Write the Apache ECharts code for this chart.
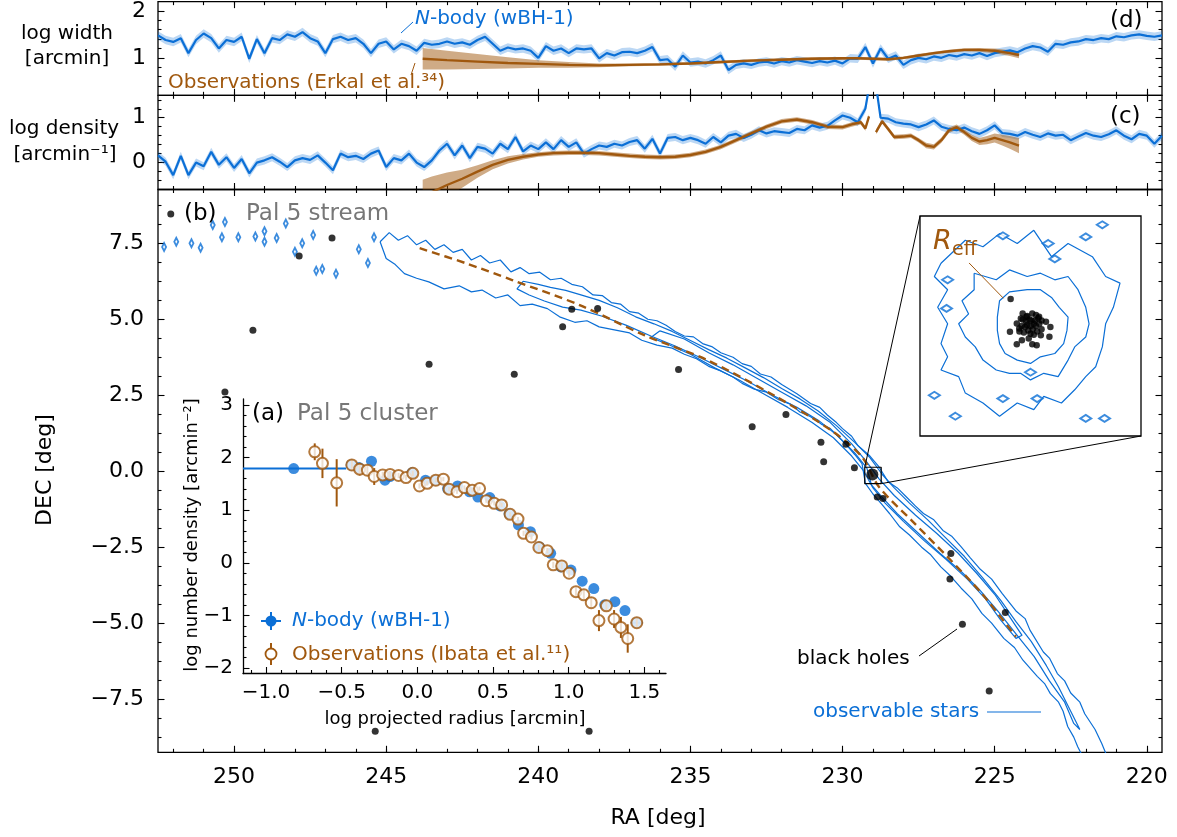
<!DOCTYPE html>
<html><head><meta charset="utf-8">
<script src="https://cdn.jsdelivr.net/npm/echarts@6/dist/echarts.min.js"></script>
<style>html,body{margin:0;padding:0;background:#fff}#c{width:1177px;height:837px}</style>
</head><body><div id="c"></div>
<script>
// ---------------- DATA ----------------
const raTicks = [220,225,230,235,240,245,250];
const raMinor = [220,221,222,223,224,225,226,227,228,229,230,231,232,233,234,235,236,237,238,239,240,241,242,243,244,245,246,247,248,249,250,251,252];
const decTicks = [-7.5,-5,-2.5,0,2.5,5,7.5];
const decMinor = [-8.75,-8.125,-6.875,-6.25,-5.625,-4.375,-3.75,-3.125,-1.875,-1.25,-0.625,0.625,1.25,1.875,3.125,3.75,4.375,5.625,6.25,6.875,8.125,8.75];
const widthTicks = [1,2];
const widthMinor = [0.4,0.6,0.8,1.2,1.4,1.6,1.8];
const densTicks = [0,1];
const densMinor = [-0.4,-0.2,0.2,0.4,0.6,0.8,1.2,1.4];
const profXTicks = [-1,-0.5,0,0.5,1,1.5];
const profXMinor = [-1.1,-0.9,-0.8,-0.7,-0.6,-0.4,-0.3,-0.2,-0.1,0.1,0.2,0.3,0.4,0.6,0.7,0.8,0.9,1.1,1.2,1.3,1.4,1.6];
const profYTicks = [-2,-1,0,1,2,3];
const profYMinor = [-1.8,-1.6,-1.4,-1.2,-0.8,-0.6,-0.4,-0.2,0.2,0.4,0.6,0.8,1.2,1.4,1.6,1.8,2.2,2.4,2.6,2.8];

// N-body stream profiles (RA grid of the model curve)
const nbRA = [252.5,252.25,252,251.75,251.5,251.25,251,250.75,250.5,250.25,250,249.75,249.5,249.25,249,248.75,248.5,248.25,248,247.75,247.5,247.25,247,246.75,246.5,246.25,246,245.75,245.5,245.25,245,244.75,244.5,244.25,244,243.75,243.5,243.25,243,242.75,242.5,242.25,242,241.75,241.5,241.25,241,240.75,240.5,240.25,240,239.75,239.5,239.25,239,238.75,238.5,238.25,238,237.75,237.5,237.25,237,236.75,236.5,236.25,236,235.75,235.5,235.25,235,234.75,234.5,234.25,234,233.75,233.5,233.25,233,232.75,232.5,232.25,232,231.75,231.5,231.25,231,230.75,230.5,230.25,230,229.75,229.5,229.25,229,228.75,228.5,228.25,228,227.75,227.5,227.25,227,226.75,226.5,226.25,226,225.75,225.5,225.25,225,224.75,224.5,224.25,224,223.75,223.5,223.25,223,222.75,222.5,222.25,222,221.75,221.5,221.25,221,220.75,220.5,220.25,220,219.75,219.5];
const nbWidth = [1.48,1.38,1.34,1.42,1.1,1.38,1.52,1.42,1.2,1.38,1.34,1.45,0.98,1.4,1.1,1.42,1.38,1.5,1.45,1.55,1.42,1.35,1.1,1.4,1.45,1.38,1.42,1.3,1.1,1.3,1.35,1.18,1.3,1.25,1.15,1.32,1.28,1.3,1.35,1.3,1.33,1.28,1.38,1.45,1.3,1.15,1.22,1.18,1.2,1.15,1.0,1.25,1.15,1.2,1.1,1.2,1.18,1.2,0.99,1.1,1.05,1.12,1.13,1.1,1.15,1.23,0.95,0.97,0.81,1.05,0.9,0.92,0.88,0.95,1.05,0.74,0.85,0.88,0.85,0.9,0.92,0.88,0.93,0.9,0.95,0.92,0.89,0.93,0.9,0.94,0.88,0.99,0.98,1.23,0.88,1.2,0.98,1.05,0.85,0.95,1.0,0.97,1.03,1.0,1.06,1.03,1.08,1.05,1.1,1.04,1.1,1.13,1.16,1.12,1.2,1.25,1.22,1.13,1.3,1.28,1.33,1.35,1.4,1.38,1.42,1.4,1.46,1.44,1.48,1.5,1.47,1.45,1.48];
const nbDens = [0.16,0.02,-0.28,0.15,-0.28,0.0,-0.08,0.24,-0.05,0.12,-0.12,0.08,-0.24,0.0,0.05,0.12,0.02,-0.1,0.05,0.1,0.06,0.16,0.0,-0.17,0.2,0.12,0.15,0.08,0.2,0.27,-0.1,0.1,0.05,0.2,0.0,-0.1,0.05,0.27,0.42,0.16,0.38,0.1,0.35,0.31,0.2,0.42,0.3,0.57,0.25,0.38,0.3,0.45,0.3,0.5,0.35,0.45,0.2,0.3,0.38,0.35,0.42,0.38,0.46,0.5,0.31,0.53,0.2,0.55,0.57,0.5,0.55,0.5,0.42,0.57,0.45,0.6,0.64,0.55,0.62,0.72,0.65,0.7,0.68,0.66,0.75,0.72,0.83,0.78,0.82,0.94,1.05,1.0,0.9,1.2,2.2,1.0,0.98,0.9,0.87,0.85,0.79,0.85,0.94,0.8,0.75,0.72,0.78,0.7,0.64,0.72,0.83,0.66,0.64,0.6,0.68,0.62,0.57,0.65,0.6,0.62,0.5,0.58,0.66,0.6,0.57,0.63,0.72,0.6,0.52,0.64,0.6,0.42,0.6];
const nbSigma = 0.09;

// Observations (Erkal et al.) width
const dObsRA  = [243.8,243,242,241,240,239,238,237,236,235,234,233,232,231,230,229.5,229,228.5,228,227.5,227,226.5,226,225.5,225,224.5,224.2];
const dObsVal = [0.98,0.95,0.92,0.89,0.87,0.85,0.84,0.85,0.86,0.88,0.91,0.94,0.96,0.98,0.99,0.99,0.98,0.97,1.0,1.05,1.1,1.14,1.17,1.17,1.15,1.1,1.06];
const dObsErr = [0.23,0.2,0.16,0.12,0.08,0.06,0.04,0.03,0.03,0.03,0.03,0.03,0.03,0.03,0.03,0.03,0.03,0.03,0.03,0.03,0.03,0.03,0.035,0.04,0.05,0.06,0.07];
// Observations density (two segments, gap at the cluster)
const cObsRA1  = [243.8,243.5,243,242.5,242,241.5,241,240.5,240,239.5,239,238.5,238,237.5,237,236.5,236,235.5,235,234.5,234,233.5,233,232.5,232,231.5,231,230.5,230,229.7,229.4,229.25,229.13];
const cObsVal1 = [-0.78,-0.66,-0.5,-0.36,-0.2,-0.05,0.06,0.13,0.18,0.21,0.22,0.22,0.21,0.18,0.15,0.13,0.12,0.13,0.17,0.24,0.35,0.5,0.65,0.8,0.92,0.96,0.9,0.8,0.79,0.85,0.9,0.76,1.03];
const cObsErr1 = [0.4,0.35,0.28,0.2,0.14,0.1,0.08,0.06,0.05,0.05,0.05,0.05,0.05,0.05,0.05,0.05,0.05,0.05,0.05,0.05,0.05,0.05,0.05,0.05,0.05,0.05,0.05,0.05,0.05,0.05,0.05,0.05,0.05];
const cObsRA2  = [228.9,228.7,228.5,228.3,228.0,227.75,227.5,227.25,227.0,226.75,226.5,226.25,226.0,225.75,225.5,225.25,225.0,224.75,224.5,224.2];
const cObsVal2 = [0.68,0.92,0.75,0.57,0.58,0.6,0.5,0.38,0.35,0.5,0.72,0.79,0.68,0.55,0.47,0.5,0.55,0.5,0.45,0.38];
const cObsErr2 = [0.05,0.05,0.05,0.05,0.05,0.05,0.05,0.06,0.06,0.06,0.06,0.06,0.06,0.07,0.08,0.09,0.1,0.12,0.14,0.17];

// Stream contours (RA, DEC)
const contourOuter = [[245.2,7.55],[244.9,7.85],[244.6,7.6],[244.3,7.75],[244.0,7.45],[243.7,7.6],[243.4,7.3],[243.1,7.45],[242.8,7.2],[242.5,7.3],[242.2,6.95],[241.9,7.1],[241.6,6.85],[241.25,6.95],[240.9,6.56],[240.6,6.7],[240.3,6.5],[239.95,6.55],[239.6,6.3],[239.25,6.35],[238.9,6.15],[238.55,6.07],[238.2,5.8],[237.9,5.78],[237.6,5.55],[237.3,5.5],[237.0,5.25],[236.7,5.2],[236.4,5.0],[236.1,4.95],[235.8,4.8],[235.5,4.6],[235.2,4.45],[234.9,4.42],[234.6,4.2],[234.3,4.1],[234.0,3.9],[233.6,3.75],[233.3,3.54],[233.0,3.45],[232.7,3.2],[232.35,3.1],[232.0,2.85],[231.5,2.55],[231.05,2.23],[230.75,2.1],[230.5,1.85],[230.2,1.6],[230.0,1.4],[229.7,1.15],[229.5,0.85],[229.1,0.5],[228.8,0.14],[228.5,-0.35],[228.2,-0.55],[227.9,-0.85],[227.6,-1.15],[227.34,-1.39],[227.0,-1.6],[226.7,-1.95],[226.4,-2.15],[226.1,-2.49],[225.8,-2.85],[225.5,-3.2],[225.1,-3.55],[224.75,-4.03],[224.3,-4.6],[224.0,-4.85],[223.84,-5.23],[223.4,-5.95],[223.2,-6.15],[222.94,-6.66],[222.7,-6.9],[222.5,-7.3],[222.2,-7.6],[222.04,-7.98],[221.7,-8.5],[221.48,-8.96],[221.3,-9.4],[222.1,-9.4],[222.27,-9.07],[222.4,-8.75],[222.6,-8.4],[222.75,-7.9],[222.9,-7.6],[223.17,-7.32],[223.35,-7.0],[223.6,-6.75],[224.07,-6.22],[224.35,-5.8],[224.7,-5.5],[225.1,-5.0],[225.42,-4.68],[225.75,-4.2],[226.1,-3.85],[226.45,-3.45],[226.77,-3.15],[227.1,-2.75],[227.4,-2.5],[227.8,-2.1],[228.12,-1.83],[228.45,-1.4],[228.7,-1.1],[229.0,-0.75],[229.25,-0.4],[229.36,0.25],[229.6,0.55],[229.9,0.9],[230.4,1.4],[230.7,1.55],[231.05,1.79],[231.4,1.95],[231.7,2.2],[232.1,2.35],[232.5,2.6],[232.9,2.7],[233.3,2.89],[233.6,3.1],[234.0,3.3],[234.4,3.45],[234.8,3.7],[235.2,3.85],[235.6,4.05],[236.1,4.15],[236.6,4.31],[237.0,4.55],[237.5,4.65],[238.0,4.75],[238.4,4.95],[238.8,4.9],[239.3,5.08],[239.7,5.35],[240.2,5.5],[240.6,5.45],[241.0,5.8],[241.4,5.7],[241.85,5.96],[242.2,5.9],[242.6,6.1],[243.1,6.0],[243.6,6.23],[244.0,6.35],[244.4,6.5],[244.7,6.8],[245.0,7.0],[245.2,7.55]];
const contourMid = [[240.5,6.25],[240.0,6.15],[239.6,6.05],[239.1,5.95],[238.6,5.8],[238.0,5.62],[237.4,5.38],[236.8,5.08],[236.2,4.85],[235.6,4.6],[235.0,4.3],[234.4,4.0],[233.8,3.72],[233.2,3.4],[232.6,3.08],[232.0,2.72],[231.4,2.38],[230.8,1.98],[230.2,1.5],[229.6,0.95],[229.1,0.45],[228.7,-0.1],[228.3,-0.55],[227.8,-1.05],[227.2,-1.6],[226.6,-2.2],[226.0,-2.8],[225.4,-3.5],[224.8,-4.25],[224.3,-4.95],[223.8,-5.6],[223.3,-6.4],[222.9,-7.1],[222.5,-7.9],[222.2,-8.5],[222.4,-8.3],[222.7,-7.6],[223.2,-6.9],[223.7,-6.1],[224.3,-5.35],[224.9,-4.6],[225.5,-3.9],[226.1,-3.3],[226.8,-2.7],[227.5,-2.05],[228.2,-1.4],[228.7,-0.85],[229.05,-0.45],[229.2,0.1],[229.6,0.6],[230.2,1.2],[230.8,1.68],[231.5,2.1],[232.3,2.5],[233.1,2.95],[233.9,3.35],[234.7,3.75],[235.5,4.12],[236.3,4.45],[237.1,4.8],[237.9,5.1],[238.6,5.3],[239.2,5.4],[239.8,5.6],[240.3,5.8],[240.7,6.0],[240.5,6.25]];
const contourInner = [[236.0,4.62],[235.2,4.35],[234.4,3.9],[233.6,3.5],[232.8,3.05],[232.0,2.6],[231.2,2.15],[230.4,1.6],[229.7,0.9],[229.2,0.3],[228.8,-0.25],[228.3,-0.8],[227.6,-1.45],[226.9,-2.05],[226.2,-2.7],[225.6,-3.35],[225.0,-4.05],[224.5,-4.8],[224.1,-5.4],[224.3,-5.5],[224.8,-4.9],[225.3,-4.2],[225.9,-3.55],[226.6,-2.9],[227.3,-2.3],[228.0,-1.65],[228.6,-1.05],[229.0,-0.55],[229.3,0.0],[229.7,0.5],[230.3,1.1],[231.0,1.6],[231.8,2.1],[232.6,2.55],[233.4,3.0],[234.2,3.4],[235.0,3.85],[235.8,4.2],[236.3,4.4],[236.0,4.62]];
const blobRA  = [252.3,251.9,251.4,251.1,250.7,250.4,250.3,249.86,249.3,249.0,249.0,248.6,248.3,248.0,247.76,247.4,247.3,247.1,246.65,245.9,245.6,245.4];
const blobDEC = [7.38,7.55,7.5,7.35,8.1,7.7,8.2,7.7,7.72,7.9,7.55,7.67,8.15,7.22,7.5,7.77,6.6,6.65,6.5,7.3,6.85,7.7];
// Observed stream track
const trackRA  = [243.9,242.4,240.86,238.6,236.5,234.43,232.18,230.38,229.36,228.8,227.7,226.55,225.42,224.3];
const trackDEC = [7.34,6.85,6.29,5.45,4.47,3.65,2.45,1.35,0.47,-0.52,-1.65,-2.82,-4.03,-5.45];
// Black holes
const bhRA  = [252.08,247.86,246.78,249.38,243.59,240.79,250.3,239.2,238.9,238.05,235.39,232.97,231.86,230.71,230.62,229.89,229.61,228.86,228.67,226.44,226.47,226.06,224.65,225.18,245.36,238.33];
const bhDEC = [8.46,7.08,7.67,4.64,3.52,3.19,2.61,4.75,5.33,5.35,3.35,1.46,1.87,0.95,0.31,0.89,0.11,-0.85,-0.9,-2.71,-3.55,-5.04,-4.65,-7.23,-8.56,-8.56];
const clusterPos = [229.02,-0.11];
const zoomBoxRA = [228.73,229.27];
const zoomBoxDEC = [-0.41,0.13];

// Zoomed cluster view (relative units)
const zoomInner = [[-0.28,0.23],[-0.19,0.31],[-0.03,0.33],[0.09,0.33],[0.19,0.26],[0.26,0.17],[0.34,0.08],[0.33,-0.04],[0.30,-0.16],[0.22,-0.25],[0.09,-0.28],[0,-0.34],[-0.12,-0.31],[-0.23,-0.25],[-0.28,-0.16],[-0.30,-0.04],[-0.30,0.08],[-0.28,0.23]];
const zoomMid = [[-0.51,0.48],[-0.31,0.42],[-0.19,0.51],[-0.03,0.45],[0.09,0.48],[0.22,0.42],[0.34,0.45],[0.43,0.33],[0.50,0.17],[0.53,0.02],[0.50,-0.10],[0.40,-0.19],[0.34,-0.31],[0.25,-0.46],[0.12,-0.43],[0,-0.49],[-0.09,-0.43],[-0.19,-0.43],[-0.31,-0.40],[-0.43,-0.31],[-0.50,-0.19],[-0.59,-0.10],[-0.65,0.02],[-0.56,0.11],[-0.62,0.23],[-0.51,0.33],[-0.51,0.48]];
const zoomOuter = [[-0.81,0.57],[-0.59,0.78],[-0.43,0.72],[-0.28,0.84],[-0.12,0.75],[0.03,0.87],[0.19,0.63],[0.34,0.75],[0.56,0.63],[0.68,0.45],[0.81,0.39],[0.75,0.17],[0.68,0.02],[0.65,-0.19],[0.59,-0.37],[0.50,-0.46],[0.40,-0.58],[0.28,-0.70],[0.12,-0.64],[0.03,-0.76],[-0.12,-0.70],[-0.28,-0.82],[-0.43,-0.70],[-0.59,-0.61],[-0.65,-0.46],[-0.81,-0.40],[-0.75,-0.28],[-0.81,-0.16],[-0.75,0.02],[-0.84,0.17],[-0.75,0.33],[-0.87,0.45],[-0.81,0.57]];
const zoomBlobX = [-0.25,0.16,0.65,-0.75,-0.76,0.0,0.06,-0.68,0.5,0.67,-0.25,-0.87,0.22,0.5];
const zoomBlobY = [0.82,0.75,0.92,0.42,0.16,-0.42,-0.66,-0.82,-0.84,-0.84,-0.66,-0.63,0.61,0.81];
const zoomStarX = [-0.071,0.016,-0.037,-0.087,-0.124,-0.102,-0.186,-0.078,-0.124,0.016,0.056,0.14,0.18,0.093,0.171,0.078,-0.016,0,0.03,-0.03,0.02,-0.02,0.05,-0.05,0.01,-0.01,0.04,-0.04,0.06,-0.06,0.0,0.08,-0.08,0.03,-0.03,0.07,-0.07,0.1,-0.1,0.05,0.1,-0.18];
const zoomStarY = [0.113,0.113,0.083,0.068,0.023,-0.023,-0.053,-0.129,-0.165,-0.165,-0.174,0.038,-0.008,-0.083,-0.098,0.083,-0.113,0,0.02,0.01,-0.03,-0.04,0.0,-0.01,0.05,0.06,0.05,0.04,-0.05,-0.06,-0.07,0.02,0.0,-0.08,0.09,0.07,0.06,-0.03,-0.05,0.1,0.05,0.245];
const reffPos = [0,0];
const reffLeader = [[-0.556,0.573],[-0.245,0.252]];

// Inset (a): surface density profiles
const nbProfX = [-0.817,-0.437,-0.386,-0.303,-0.214,-0.181,-0.036,0.054,0.122,0.2,0.266,0.345,0.40,0.479,0.546,0.606,0.668,0.747,0.807,0.881,0.948,1.015,1.089,1.166,1.238,1.305,1.372,1.45];
const nbProfY = [1.79,1.86,1.81,1.93,1.57,1.64,1.71,1.57,1.57,1.41,1.46,1.35,1.25,1.24,1.08,0.93,0.72,0.59,0.30,0.18,-0.08,-0.14,-0.35,-0.49,-0.80,-0.74,-0.91,-1.14];
const nbProfXErr = [[-0.817,1.79,-1.3,-0.47],[1.45,-1.14,1.41,1.49]];
const obsProfX = [-0.678,-0.627,-0.533,-0.433,-0.381,-0.33,-0.285,-0.229,-0.18,-0.124,-0.075,-0.03,0.014,0.065,0.122,0.172,0.21,0.262,0.311,0.363,0.411,0.456,0.508,0.557,0.613,0.665,0.702,0.754,0.803,0.859,0.898,0.954,1.003,1.048,1.10,1.149,1.2,1.249,1.30,1.345,1.39,1.45];
const obsProfY = [2.11,1.89,1.52,1.86,1.78,1.76,1.64,1.67,1.68,1.66,1.62,1.70,1.46,1.51,1.57,1.59,1.40,1.35,1.43,1.38,1.41,1.18,1.13,1.10,0.92,0.83,0.56,0.49,0.29,0.23,-0.04,-0.06,-0.20,-0.55,-0.61,-0.76,-1.10,-0.82,-1.07,-1.23,-1.44,-1.14];
const obsProfErr = [0.16,0.28,0.45,0.1,0.12,0.1,0.16,0.06,0.06,0.05,0.05,0.05,0.05,0.04,0.04,0.04,0.04,0.04,0.04,0.04,0.04,0.04,0.04,0.04,0.04,0.04,0.05,0.05,0.05,0.05,0.06,0.06,0.07,0.08,0.09,0.1,0.2,0.1,0.17,0.2,0.27,0.08];

// ---------------- STYLE ----------------
const FONT = 'DejaVu Sans';
const BLUE = '#0b6fd6';
const BLUE_BAND = 'rgba(11,111,214,0.28)';
const BROWN = '#a0580e';
const BROWN_BAND = 'rgba(160,88,14,0.5)';
const GRAY = '#777777';
const fmtInt = v => String(v).replace('-', '\u2212');
const fmt1 = v => v.toFixed(1).replace('-', '\u2212');

const xAxes = [], yAxes = [];
function axisObj(o) {
  return {
    type: 'value', gridIndex: o.grid, min: o.min, max: o.max, inverse: !!o.inverse,
    position: o.pos, show: o.show !== false,
    axisLine: {show: !!o.line, onZero: false, lineStyle: {color: '#000', width: 1.3}},
    axisTick: {show: !!o.ticks, inside: true, length: o.len || 6.5, customValues: o.ticks || undefined, lineStyle: {color: '#000', width: 1.1}},
    axisLabel: {show: !!o.labels, customValues: o.labels || undefined, formatter: o.fmt, color: '#000', fontFamily: FONT, fontSize: o.fs || 22, margin: o.margin || 8},
    minorTick: {show: false}, splitLine: {show: false}, splitArea: {show: false}
  };
}
function addPanel(g, o) {
  const xi = xAxes.length, yi = yAxes.length;
  const xb = {grid: g, min: o.xmin, max: o.xmax, inverse: o.xinv, line: o.line};
  const yb = {grid: g, min: o.ymin, max: o.ymax, line: o.line};
  xAxes.push(axisObj(Object.assign({}, xb, {pos: 'bottom', ticks: o.xMaj, labels: o.xLab, fmt: o.xFmt, margin: o.xMargin, fs: o.fs})));
  xAxes.push(axisObj(Object.assign({}, xb, {pos: 'bottom', ticks: o.xMin, len: 3.5, line: false})));
  yAxes.push(axisObj(Object.assign({}, yb, {pos: 'left', ticks: o.yMaj, labels: o.yLab, fmt: o.yFmt, margin: o.yMargin, fs: o.fs})));
  yAxes.push(axisObj(Object.assign({}, yb, {pos: 'left', ticks: o.yMin, len: 3.5, line: false})));
  if (o.frame) {
    xAxes.push(axisObj(Object.assign({}, xb, {pos: 'top', ticks: o.xMaj})));
    xAxes.push(axisObj(Object.assign({}, xb, {pos: 'top', ticks: o.xMin, len: 3.5})));
    yAxes.push(axisObj(Object.assign({}, yb, {pos: 'right', ticks: o.yMaj})));
    yAxes.push(axisObj(Object.assign({}, yb, {pos: 'right', ticks: o.yMin, len: 3.5})));
  }
  return {x: xi, y: yi};
}
const AD = addPanel(0, {xmin: 219.5, xmax: 252.5, xinv: true, xMaj: raTicks, xMin: raMinor, ymin: 0.2, ymax: 2.2, yMaj: widthTicks, yMin: widthMinor, yLab: widthTicks, yFmt: fmtInt, yMargin: 12, frame: true});
const AC = addPanel(1, {xmin: 219.5, xmax: 252.5, xinv: true, xMaj: raTicks, xMin: raMinor, ymin: -0.6, ymax: 1.5, yMaj: densTicks, yMin: densMinor, yLab: densTicks, yFmt: fmtInt, yMargin: 12, frame: true});
const AB = addPanel(2, {xmin: 219.5, xmax: 252.5, xinv: true, xMaj: raTicks, xMin: raMinor, xLab: raTicks, xFmt: fmtInt, xMargin: 14, ymin: -9.25, ymax: 9.27, yMaj: decTicks, yMin: decMinor, yLab: decTicks, yFmt: fmt1, yMargin: 14, frame: true});
const AA = addPanel(3, {xmin: -1.152, xmax: 1.643, xMaj: profXTicks, xMin: profXMinor, xLab: profXTicks, xFmt: fmt1, xMargin: 9, ymin: -2.106, ymax: 3.114, yMaj: profYTicks, yMin: profYMinor, yLab: profYTicks, yFmt: fmtInt, yMargin: 10, fs: 20, line: true});
const AZ = {x: xAxes.length, y: yAxes.length};
xAxes.push({type: 'value', gridIndex: 4, min: -1, max: 1, show: false});
yAxes.push({type: 'value', gridIndex: 4, min: -1, max: 1, show: false});

// ---------------- SERIES ----------------
function zip(a, b) { return a.map((v, i) => [v, b[i]]); }
function band(ax, xs, lo, hi, color, z) {
  return {
    type: 'custom', xAxisIndex: ax.x, yAxisIndex: ax.y, silent: true, z: z || 1,
    data: [[xs[0], lo[0]]],
    renderItem: function (params, api) {
      const pts = [];
      for (let i = 0; i < xs.length; i++) pts.push(api.coord([xs[i], hi[i]]));
      for (let i = xs.length - 1; i >= 0; i--) pts.push(api.coord([xs[i], lo[i]]));
      const cs = params.coordSys;
      return {type: 'polygon', shape: {points: pts}, style: {fill: color},
              clipPath: {type: 'rect', shape: {x: cs.x, y: cs.y, width: cs.width, height: cs.height}}};
    }
  };
}
function line(ax, data, color, width, extra) {
  return Object.assign({type: 'line', xAxisIndex: ax.x, yAxisIndex: ax.y, data: data, showSymbol: false, symbol: 'none',
    lineStyle: {color: color, width: width}, silent: true, clip: true, z: 3}, extra || {});
}
const sub = (a, e) => a.map((v, i) => v - (Array.isArray(e) ? e[i] : e));
const add = (a, e) => a.map((v, i) => v + (Array.isArray(e) ? e[i] : e));

const series = [
  // panel d
  band(AD, nbRA, sub(nbWidth, nbSigma), add(nbWidth, nbSigma), BLUE_BAND, 1),
  band(AD, dObsRA, sub(dObsVal, dObsErr), add(dObsVal, dObsErr), BROWN_BAND, 2),
  line(AD, zip(nbRA, nbWidth), BLUE, 2.2),
  line(AD, zip(dObsRA, dObsVal), BROWN, 2.4, {z: 4}),
  // panel c
  band(AC, nbRA, sub(nbDens, nbSigma), add(nbDens, nbSigma), BLUE_BAND, 1),
  band(AC, cObsRA1, sub(cObsVal1, cObsErr1), add(cObsVal1, cObsErr1), BROWN_BAND, 2),
  band(AC, cObsRA2, sub(cObsVal2, cObsErr2), add(cObsVal2, cObsErr2), BROWN_BAND, 2),
  line(AC, zip(nbRA, nbDens), BLUE, 2.2),
  line(AC, zip(cObsRA1, cObsVal1), BROWN, 2.4, {z: 4}),
  line(AC, zip(cObsRA2, cObsVal2), BROWN, 2.4, {z: 4}),
  // panel b
  line(AB, contourOuter, BLUE, 1.2),
  line(AB, contourMid, BLUE, 1.2),
  line(AB, contourInner, BLUE, 1.2),
  {type: 'scatter', xAxisIndex: AB.x, yAxisIndex: AB.y, data: zip(blobRA, blobDEC), symbol: 'emptyDiamond', symbolSize: [4, 8],
   itemStyle: {color: BLUE, borderColor: BLUE, borderWidth: 1.1}, silent: true, z: 3},
  line(AB, zip(trackRA, trackDEC), BROWN, 2.3, {lineStyle: {color: BROWN, width: 2.4, type: [8, 5]}, z: 4, smooth: 0.3}),
  line(AB, [[zoomBoxRA[0], zoomBoxDEC[0]], [zoomBoxRA[1], zoomBoxDEC[0]], [zoomBoxRA[1], zoomBoxDEC[1]], [zoomBoxRA[0], zoomBoxDEC[1]], [zoomBoxRA[0], zoomBoxDEC[0]]], '#000', 1.2, {z: 6}),
  {type: 'scatter', xAxisIndex: AB.x, yAxisIndex: AB.y, data: zip(bhRA, bhDEC), symbol: 'circle', symbolSize: 7,
   itemStyle: {color: '#000'}, silent: true, z: 5},
  {type: 'scatter', xAxisIndex: AB.x, yAxisIndex: AB.y, data: [clusterPos], symbol: 'circle', symbolSize: 12,
   itemStyle: {color: '#000'}, silent: true, z: 5},
  // inset a
  {type: 'custom', xAxisIndex: AA.x, yAxisIndex: AA.y, data: nbProfXErr, silent: true, z: 5,
   renderItem: function (params, api) {
     const a = api.coord([api.value(2), api.value(1)]), b = api.coord([api.value(3), api.value(1)]);
     const cs = params.coordSys;
     return {type: 'line', shape: {x1: a[0], y1: a[1], x2: b[0], y2: b[1]}, style: {stroke: BLUE, lineWidth: 2},
             clipPath: {type: 'rect', shape: {x: cs.x, y: cs.y, width: cs.width, height: cs.height}}};
   }},
  {type: 'scatter', xAxisIndex: AA.x, yAxisIndex: AA.y, data: zip(nbProfX, nbProfY), symbol: 'circle', symbolSize: 11,
   itemStyle: {color: BLUE}, silent: true, z: 6},
  {type: 'custom', xAxisIndex: AA.x, yAxisIndex: AA.y, data: obsProfX.map((x, i) => [x, obsProfY[i], obsProfErr[i]]), silent: true, z: 7,
   renderItem: function (params, api) {
     const x = api.value(0), y = api.value(1), e = api.value(2);
     const a = api.coord([x, y - e]), b = api.coord([x, y + e]);
     return {type: 'line', shape: {x1: a[0], y1: a[1], x2: b[0], y2: b[1]}, style: {stroke: BROWN, lineWidth: 2}};
   }},
  {type: 'scatter', xAxisIndex: AA.x, yAxisIndex: AA.y, data: zip(obsProfX, obsProfY), symbol: 'emptyCircle', symbolSize: 11,
   itemStyle: {color: BROWN, borderColor: BROWN, borderWidth: 1.8}, silent: true, z: 8},
  // zoom box
  line(AZ, zoomOuter, BLUE, 1.2),
  line(AZ, zoomMid, BLUE, 1.2),
  line(AZ, zoomInner, BLUE, 1.2),
  {type: 'scatter', xAxisIndex: AZ.x, yAxisIndex: AZ.y, data: zip(zoomBlobX, zoomBlobY), symbol: 'emptyDiamond', symbolSize: [11, 7],
   itemStyle: {color: BLUE, borderColor: BLUE, borderWidth: 1.1}, silent: true, z: 3},
  line(AZ, reffLeader, BROWN, 1, {z: 4}),
  {type: 'scatter', xAxisIndex: AZ.x, yAxisIndex: AZ.y, data: [reffPos], symbol: 'emptyCircle', symbolSize: 51,
   itemStyle: {color: 'rgba(0,0,0,0)', borderColor: BROWN, borderWidth: 2.6}, silent: true, z: 4},
  {type: 'scatter', xAxisIndex: AZ.x, yAxisIndex: AZ.y, data: zip(zoomStarX, zoomStarY), symbol: 'circle', symbolSize: 6.5,
   itemStyle: {color: '#000'}, silent: true, z: 5}
];

const option = {
  animation: false,
  backgroundColor: '#fff',
  textStyle: {fontFamily: FONT},
  grid: [
    {left: 158, top: 1.3, width: 1004, height: 94, show: true, borderColor: '#000', borderWidth: 1.3, backgroundColor: 'transparent'},
    {left: 158, top: 95.3, width: 1004, height: 94.2, show: true, borderColor: '#000', borderWidth: 1.3, backgroundColor: 'transparent'},
    {left: 158, top: 189.5, width: 1004, height: 562.8, show: true, borderColor: '#000', borderWidth: 1.3, backgroundColor: 'transparent'},
    {left: 243, top: 399, width: 423, height: 274.5, show: false},
    {left: 920, top: 216, width: 221, height: 220, show: true, borderColor: '#000', borderWidth: 1.3, backgroundColor: '#fff'}
  ],
  xAxis: xAxes,
  yAxis: yAxes,
  series: series
};

const chart = echarts.init(document.getElementById('c'), null, {renderer: 'canvas'});
chart.setOption(option);

// ---------------- ANNOTATIONS ----------------
function txt(x, y, text, size, color, opts) {
  return Object.assign({type: 'text', x: x, y: y, z: 100,
    style: Object.assign({text: text, font: size + 'px "' + FONT + '"', fill: color || '#000',
      textAlign: 'left', align: 'left', textVerticalAlign: 'middle', verticalAlign: 'middle'}, (opts && opts.style) || {})},
    (opts && opts.el) || {});
}
function ln(x1, y1, x2, y2, color, w) {
  return {type: 'line', z: 100, shape: {x1: x1, y1: y1, x2: x2, y2: y2}, style: {stroke: color || '#000', lineWidth: w || 1}};
}
function richTxt(x, y, parts, size, color) {
  return {type: 'text', x: x, y: y, z: 100, style: {text: parts, fill: color, font: size + 'px "' + FONT + '"',
    textAlign: 'left', align: 'left', textVerticalAlign: 'middle', verticalAlign: 'middle',
    rich: {i: {fontStyle: 'italic', fontSize: size, fontFamily: FONT, fill: color},
           t: {fontSize: size, fontFamily: FONT, fill: color}}}};
}
const tl = chart.convertToPixel({xAxisIndex: AB.x, yAxisIndex: AB.y}, [zoomBoxRA[1], zoomBoxDEC[1]]);
const br = chart.convertToPixel({xAxisIndex: AB.x, yAxisIndex: AB.y}, [zoomBoxRA[0], zoomBoxDEC[0]]);
const boxTL = chart.convertToPixel({xAxisIndex: AZ.x, yAxisIndex: AZ.y}, [-1, 1]);
const boxBR = chart.convertToPixel({xAxisIndex: AZ.x, yAxisIndex: AZ.y}, [1, -1]);
const C = {style: {textAlign: 'center', align: 'center'}};

const graphics = [
  txt(67, 34, 'log width', 20, '#000', C),
  txt(67, 59, '[arcmin]', 20, '#000', C),
  txt(64, 129, 'log density', 20, '#000', C),
  txt(65, 155, '[arcmin\u207B\u00B9]', 20, '#000', C),
  txt(45, 470, 'DEC [deg]', 22, '#000', {style: {textAlign: 'center', align: 'center'}, el: {rotation: Math.PI / 2}}),
  txt(658, 818, 'RA [deg]', 22, '#000', C),
  txt(1110, 21, '(d)', 23),
  txt(1110, 117, '(c)', 23),
  txt(184, 214, '(b)', 23),
  txt(246, 214, 'Pal 5 stream', 23, GRAY),
  txt(252, 414, '(a)', 23),
  txt(297, 414, 'Pal 5 cluster', 23, GRAY),
  richTxt(415, 19, '{i|N}{t|-body (wBH-1)}', 20, BLUE),
  ln(413, 22, 401, 33, BLUE, 1),
  txt(168, 83, 'Observations (Erkal et al.\u00B3\u2074)', 20, BROWN),
  ln(415, 63, 411, 75, BROWN, 1),
  txt(797, 659, 'black holes', 20, '#000'),
  ln(919, 656, 957, 629, '#000', 1),
  txt(813, 712, 'observable stars', 20, BLUE),
  ln(987, 712, 1041, 712, BLUE, 1.2),
  txt(192, 535, 'log number density [arcmin\u207B\u00B2]', 18, '#000', {style: {textAlign: 'center', align: 'center'}, el: {rotation: Math.PI / 2}}),
  txt(455, 719, 'log projected radius [arcmin]', 18, '#000', C),
  // inset legend
  {type: 'line', z: 100, shape: {x1: 261, y1: 621, x2: 281, y2: 621}, style: {stroke: BLUE, lineWidth: 2}},
  {type: 'line', z: 100, shape: {x1: 271, y1: 612, x2: 271, y2: 630}, style: {stroke: BLUE, lineWidth: 2}},
  {type: 'circle', z: 101, shape: {cx: 271, cy: 621, r: 5.5}, style: {fill: BLUE}},
  richTxt(292, 621, '{i|N}{t|-body (wBH-1)}', 20, BLUE),
  {type: 'line', z: 100, shape: {x1: 271, y1: 643, x2: 271, y2: 665}, style: {stroke: BROWN, lineWidth: 2}},
  {type: 'circle', z: 101, shape: {cx: 271, cy: 654, r: 5.5}, style: {fill: '#fff', stroke: BROWN, lineWidth: 1.8}},
  txt(292, 655, 'Observations (Ibata et al.\u00B9\u00B9)', 20, BROWN),
  // R_eff
  txt(933, 242, 'R', 27, BROWN, {style: {font: 'italic 27px "' + FONT + '"'}}),
  txt(952, 250, 'eff', 19, BROWN),
  // zoom connectors
  ln(tl[0], tl[1], boxTL[0], boxTL[1], '#000', 1),
  ln(br[0], br[1], boxBR[0], boxBR[1], '#000', 1)
];
chart.setOption({graphic: graphics});
</script></body></html>
